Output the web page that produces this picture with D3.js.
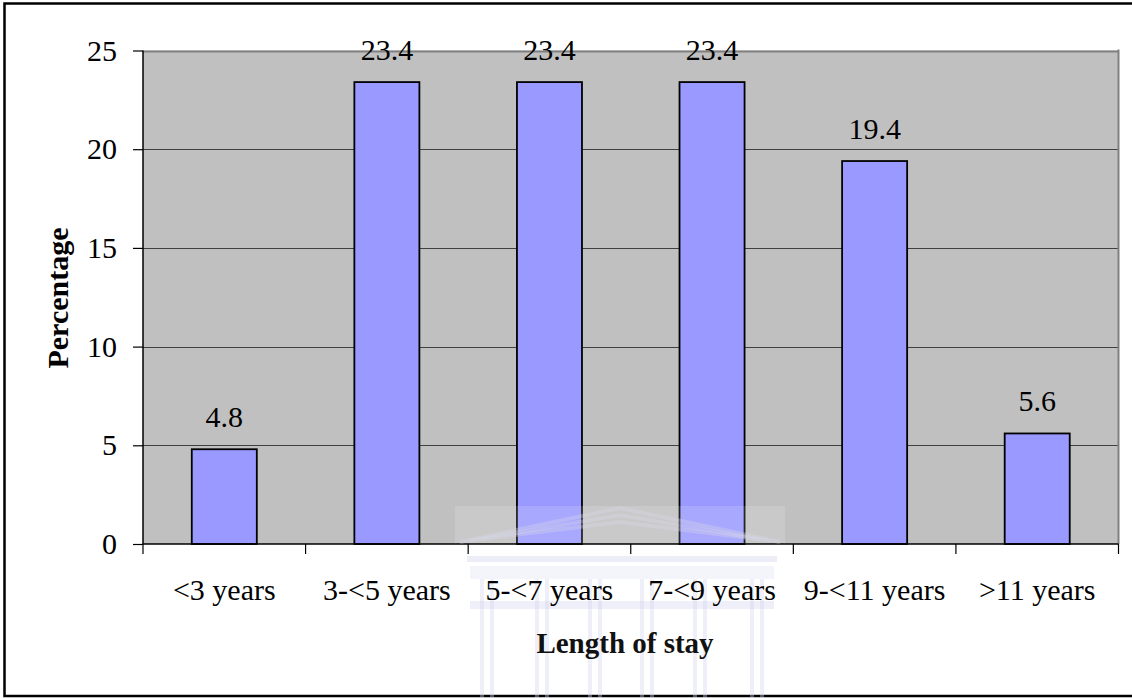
<!DOCTYPE html>
<html><head><meta charset="utf-8">
<script src="https://cdn.jsdelivr.net/npm/d3@7"></script>
<style>body{margin:0;background:#fff}svg{display:block}</style>
</head><body>
<script>
const categories = ["<3 years","3-<5 years","5-<7 years","7-<9 years","9-<11 years",">11 years"];
const values = [4.8, 23.4, 23.4, 23.4, 19.4, 5.6];
const yTicks = [0,5,10,15,20,25];
const xTitle = "Length of stay";
const yTitle = "Percentage";

const W=1132,H=698;
const svg=d3.select("body").append("svg").attr("width",W).attr("height",H);
const font="'Liberation Serif','Times New Roman',serif";

// outer frame
svg.append("rect").attr("x",4.5).attr("y",3.5).attr("width",W+10).attr("height",692.5)
  .attr("fill","#fff").attr("stroke","#000").attr("stroke-width",2.5);

const L=143,R=1118.5,T=50.5,B=544;
const x=d3.scaleBand().domain(categories).range([L,R]).paddingInner(0.6).paddingOuter(0.3);
const xc=d3.scaleBand().domain(categories).range([L,R]);
const y=d3.scaleLinear().domain([0,25]).range([B,T]);

svg.append("rect").attr("x",L).attr("y",T).attr("width",R-L).attr("height",B-T).attr("fill","#c0c0c0");
// gridlines
svg.append("g").selectAll("line").data(yTicks.filter(d=>d>0)).join("line")
  .attr("x1",L).attr("x2",R).attr("y1",d=>Math.round(y(d))+0.5).attr("y2",d=>Math.round(y(d))+0.5)
  .attr("stroke",d=>d===25?"#808080":"#404040").attr("stroke-width",d=>d===25?2:1.2);
// right border
svg.append("line").attr("x1",R).attr("x2",R).attr("y1",T-1).attr("y2",B).attr("stroke","#808080").attr("stroke-width",2);

// bars
svg.append("g").selectAll("rect").data(values).join("rect")
  .attr("x",(d,i)=>x(categories[i])).attr("width",x.bandwidth())
  .attr("y",d=>y(d)).attr("height",d=>B-y(d))
  .attr("fill","#9999ff").attr("stroke","#000").attr("stroke-width",1.8);

// value labels
svg.append("g").selectAll("text").data(values).join("text")
  .attr("x",(d,i)=>x(categories[i])+x.bandwidth()/2).attr("y",d=>y(d)-22)
  .attr("text-anchor","middle").attr("font-family",font).attr("font-size",30).attr("fill","#000")
  .text(d=>d.toFixed(1));

// y axis
const ya=svg.append("g").attr("transform",`translate(${L},0)`)
  .call(d3.axisLeft(y).tickValues(yTicks).tickSize(10).tickPadding(16).tickFormat(d3.format("d")));
ya.select(".domain").attr("stroke","#000").attr("stroke-width",1.5).attr("d",`M0,${T}V${B}`);
ya.selectAll(".tick line").attr("stroke","#000").attr("stroke-width",1.2);
ya.selectAll("text").attr("font-family",font).attr("font-size",30).attr("fill","#000");

// x axis
const xa=svg.append("g").attr("transform",`translate(0,${B})`)
  .call(d3.axisBottom(xc).tickSize(0).tickPadding(0).tickFormat(""));
xa.select(".domain").attr("stroke","#000").attr("stroke-width",1.5).attr("d",`M${L},0H${R}`);
const bounds=[...categories.map(c=>xc(c)), R];
xa.append("g").selectAll("line").data(bounds).join("line")
  .attr("x1",d=>d).attr("x2",d=>d).attr("y1",0).attr("y2",10).attr("stroke","#000").attr("stroke-width",1.2);

// faint watermark (building logo), drawn beneath the texts
const wm=svg.append("g").attr("pointer-events","none");
wm.append("rect").attr("x",455).attr("y",506).attr("width",330).attr("height",37).attr("fill","#fff").attr("opacity",0.15);
const col="#d4d6ee";
[0,7,14].forEach(o=>{
  wm.append("path").attr("d",`M${460+o*1.5},${542-o*0.2}L620,${508+o}L${780-o*1.5},${542-o*0.2}`)
    .attr("fill","none").attr("stroke","#d8d8e8").attr("stroke-width",4).attr("opacity",0.35);
});
wm.append("rect").attr("x",467).attr("y",556).attr("width",310).attr("height",6).attr("fill",col).attr("opacity",0.45);
wm.append("rect").attr("x",470).attr("y",566).attr("width",304).attr("height",13).attr("fill",col).attr("opacity",0.25);
wm.append("rect").attr("x",470).attr("y",601).attr("width",304).attr("height",8).attr("fill",col).attr("opacity",0.4);
[480,535,588,640,693,750].forEach(cx=>{
  wm.append("rect").attr("x",cx).attr("y",579).attr("width",4).attr("height",119).attr("fill",col).attr("opacity",0.4);
  wm.append("rect").attr("x",cx+10).attr("y",579).attr("width",4).attr("height",119).attr("fill",col).attr("opacity",0.4);
});

svg.append("g").selectAll("text").data(categories).join("text")
  .attr("x",d=>xc(d)+xc.bandwidth()/2).attr("y",600)
  .attr("text-anchor","middle").attr("font-family",font).attr("font-size",30).attr("fill","#000").text(d=>d);

// titles
svg.append("text").attr("x",625).attr("y",653).attr("text-anchor","middle")
  .attr("font-family",font).attr("font-size",29).attr("font-weight","bold").attr("fill","#111").text(xTitle);
svg.append("text").attr("transform","translate(68,298) rotate(-90)").attr("text-anchor","middle")
  .attr("font-family",font).attr("font-size",30).attr("font-weight","bold").text(yTitle);
</script>
</body></html>
